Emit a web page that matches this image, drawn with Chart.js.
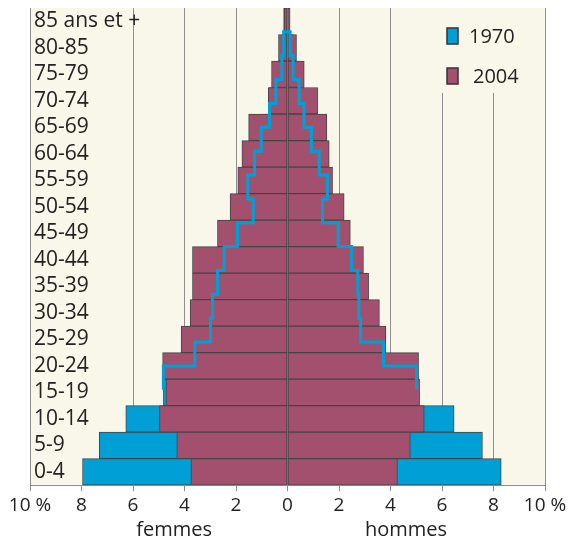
<!DOCTYPE html>
<html>
<head>
<meta charset="utf-8">
<script src="https://cdn.jsdelivr.net/npm/chart.js@4"></script>
<style>
  body { margin: 0; background: #fff; }
  #wrap { width: 582px; height: 540px; }
</style>
</head>
<body>
<div id="wrap"><canvas id="pyramid"></canvas></div>
<script>
const ageGroups = ["85 ans et +", "80-85", "75-79", "70-74", "65-69", "60-64", "55-59", "50-54",
  "45-49", "40-44", "35-39", "30-34", "25-29", "20-24", "15-19", "10-14", "5-9", "0-4"];

// % of population
const women2004 = [0.13, 0.35, 0.62, 0.75, 1.51, 1.77, 1.93, 2.23, 2.72, 3.69, 3.69, 3.78, 4.13, 4.85, 4.72, 4.97, 4.30, 3.75];
const women1970 = [0.15, 0.22, 0.45, 0.70, 1.02, 1.28, 1.54, 1.33, 1.94, 2.46, 2.72, 2.91, 2.99, 3.60, 4.82, 6.28, 7.31, 7.96];
const men2004   = [0.08, 0.35, 0.65, 1.17, 1.53, 1.62, 1.75, 2.20, 2.44, 2.95, 3.15, 3.57, 3.82, 5.09, 5.13, 5.31, 4.77, 4.27];
const men1970   = [0.10, 0.22, 0.45, 0.64, 0.93, 1.23, 1.55, 1.36, 1.97, 2.49, 2.73, 2.77, 2.84, 3.73, 5.01, 6.47, 7.57, 8.30];

const years = ["1970", "2004"];
const sideLabels = ["femmes", "hommes"];

const BLUE = "#00a0d6";
const MAROON = "#a3506f";
const CREAM = "#f9f7e9";
const FONT = "'Open Sans', sans-serif";

// 1970 outline: rows where the blue is drawn as a line over the 2004 bars (85+ down to 15-19)
const outlineRows = 15;
const outline1970 = [];
for (let i = outlineRows - 1; i >= 0; i--) {
  outline1970.push({ x: -women1970[i], y: i + 0.5 });
  outline1970.push({ x: -women1970[i], y: i - 0.5 });
}
for (let i = 0; i < outlineRows; i++) {
  outline1970.push({ x: men1970[i], y: i - 0.5 });
  outline1970.push({ x: men1970[i], y: i + 0.5 });
}

const plotBackground = {
  id: "plotBackground",
  beforeDraw(chart) {
    const { ctx, chartArea } = chart;
    ctx.save();
    ctx.fillStyle = CREAM;
    ctx.fillRect(chartArea.left, chartArea.top, chartArea.right - chartArea.left, chartArea.bottom - chartArea.top);
    ctx.restore();
  }
};

const yearLegend = {
  id: "yearLegend",
  afterDatasetsDraw(chart) {
    const { ctx, chartArea } = chart;
    const left = chartArea.right - 118;
    ctx.save();
    ctx.fillStyle = CREAM;
    ctx.fillRect(left, chartArea.top, 95, 85);
    const colors = [BLUE, MAROON];
    years.forEach((yr, i) => {
      const top = chartArea.top + 20 + i * 40;
      ctx.fillStyle = colors[i];
      ctx.fillRect(left + 20, top, 11, 16);
      ctx.strokeStyle = "#333";
      ctx.lineWidth = 1.5;
      ctx.strokeRect(left + 20, top, 11, 16);
      ctx.fillStyle = "#222";
      ctx.font = "20px " + FONT;
      ctx.textBaseline = "middle";
      ctx.fillText(yr, left + 42 + i * 4, top + 9);
    });
    ctx.restore();
  }
};

new Chart(document.getElementById("pyramid"), {
  type: "bar",
  data: {
    labels: ageGroups,
    datasets: [
      {
        type: "line",
        label: "1970 contour",
        data: outline1970,
        yAxisID: "y2",
        xAxisID: "x",
        borderColor: BLUE,
        borderWidth: 3,
        pointRadius: 0,
        fill: false,
        tension: 0,
        borderJoinStyle: "miter",
        order: 0
      },
      {
        label: "2004 femmes",
        data: women2004.map(v => -v),
        backgroundColor: MAROON,
        order: 1
      },
      {
        label: "2004 hommes",
        data: men2004,
        backgroundColor: MAROON,
        order: 1
      },
      {
        label: "1970 femmes",
        data: women1970.map(v => -v),
        backgroundColor: BLUE,
        order: 2
      },
      {
        label: "1970 hommes",
        data: men1970,
        backgroundColor: BLUE,
        order: 2
      }
    ]
  },
  options: {
    indexAxis: "y",
    responsive: true,
    maintainAspectRatio: false,
    animation: false,
    layout: { padding: { left: 30, right: 37, top: 8, bottom: 0 } },
    datasets: {
      bar: {
        grouped: false,
        barPercentage: 1,
        categoryPercentage: 1,
        borderWidth: 1,
        borderColor: "#444",
        borderSkipped: false
      }
    },
    scales: {
      x: {
        type: "linear",
        position: "bottom",
        min: -10,
        max: 10,
        ticks: {
          stepSize: 2,
          color: "#222",
          padding: 3,
          font: { family: FONT, size: 19 },
          callback: v => (Math.abs(v) === 10 ? "10 %" : String(Math.abs(v)))
        },
        grid: {
          color: ctx => (ctx.tick && ctx.tick.value === -8 ? "rgba(0,0,0,0)" : "#8e8e8e"),
          tickColor: "#8e8e8e",
          tickLength: 6,
          lineWidth: 1
        },
        border: { color: "#8e8e8e" }
      },
      x2: {
        type: "linear",
        position: "bottom",
        min: -10,
        max: 10,
        afterBuildTicks: axis => { axis.ticks = [{ value: -4.4 }, { value: 4.6 }]; },
        ticks: {
          autoSkip: false,
          color: "#222",
          padding: -2,
          font: { family: FONT, size: 20 },
          callback: v => (v < 0 ? sideLabels[0] : sideLabels[1])
        },
        grid: { display: false, drawTicks: false },
        border: { display: false }
      },
      y: {
        type: "category",
        position: "left",
        afterFit: axis => {
          axis.width = 0;
          axis.paddingTop = 0;
          axis.paddingBottom = 0;
        },
        grid: { display: false },
        border: { display: false },
        ticks: {
          autoSkip: false,
          mirror: true,
          padding: 4,
          color: "#222",
          font: { family: FONT, size: 21 }
        }
      },
      y2: {
        type: "linear",
        display: false,
        min: -0.5,
        max: 17.5,
        reverse: true
      }
    },
    plugins: {
      legend: { display: false },
      tooltip: { enabled: false }
    }
  },
  plugins: [plotBackground, yearLegend]
});
</script>
</body>
</html>
